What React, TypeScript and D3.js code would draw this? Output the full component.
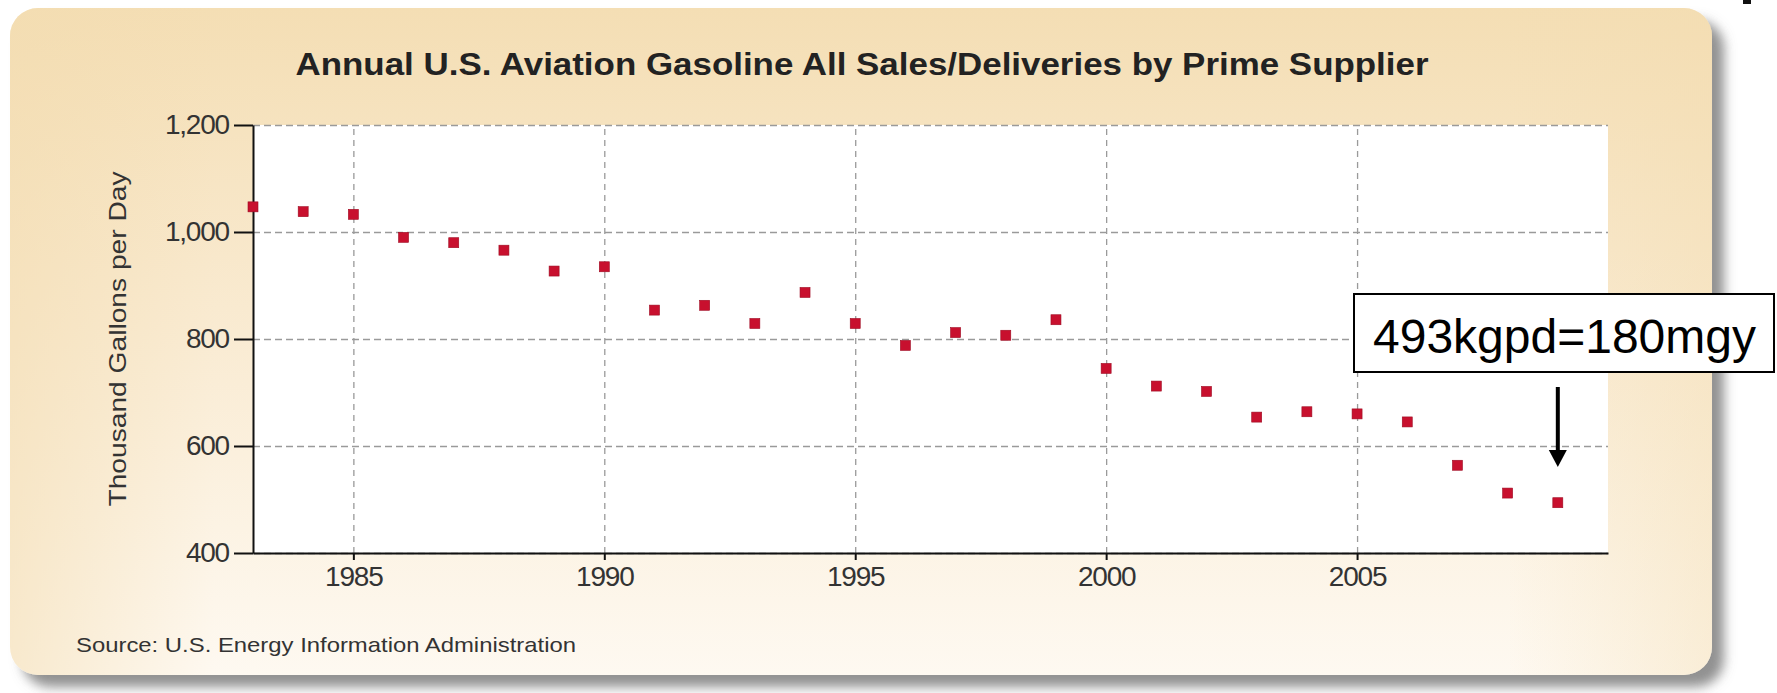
import { useEffect, useMemo, useRef } from 'react'
import * as d3 from 'd3'

const years = [
  1983, 1984, 1985, 1986, 1987, 1988, 1989, 1990, 1991, 1992, 1993, 1994, 1995, 1996,
  1997, 1998, 1999, 2000, 2001, 2002, 2003, 2004, 2005, 2006, 2007, 2008, 2009,
]
const sales = [
  1047, 1038, 1033, 990, 980, 966, 927, 935, 854, 863, 829, 887, 829, 788,
  812, 807, 836, 745, 712, 702, 654, 664, 660, 645, 564, 512, 494,
]
const yTicks = [400, 600, 800, 1000, 1200]
const xTicks = [1985, 1990, 1995, 2000, 2005]

const title = 'Annual U.S. Aviation Gasoline All Sales/Deliveries by Prime Supplier'
const yLabel = 'Thousand Gallons per Day'
const source = 'Source: U.S. Energy Information Administration'
const note = '493kgpd=180mgy'

const W = 1777
const H = 693
const plotBox = { left: 253, right: 1608, top: 125, bottom: 553 }
const font = '"Liberation Sans", Arial, sans-serif'

export default function App() {
  const xAxisRef = useRef<SVGGElement | null>(null)
  const yAxisRef = useRef<SVGGElement | null>(null)
  const xGridRef = useRef<SVGGElement | null>(null)
  const yGridRef = useRef<SVGGElement | null>(null)

  const scales = useMemo(() => {
    const x = d3.scaleLinear().domain([1983, 2010]).range([plotBox.left, plotBox.right])
    const y = d3.scaleLinear().domain([400, 1200]).range([plotBox.bottom, plotBox.top])
    return { x, y }
  }, [])

  useEffect(() => {
    const { x, y } = scales
    const innerW = plotBox.right - plotBox.left
    const innerH = plotBox.bottom - plotBox.top

    const styleAxis = (g: d3.Selection<SVGGElement, unknown, null, undefined>) => {
      g.select('.domain').attr('stroke', '#111').attr('stroke-width', 2)
      g.selectAll('.tick line').attr('stroke', '#111').attr('stroke-width', 2)
      g.selectAll('.tick text')
        .attr('fill', '#333')
        .attr('font-family', font)
        .attr('font-size', 28)
        .attr('letter-spacing', -1.2)
    }

    if (xAxisRef.current) {
      const g = d3.select(xAxisRef.current)
      g.call(d3.axisBottom(x).tickValues(xTicks).tickFormat(d3.format('d')).tickSize(7).tickSizeOuter(0).tickPadding(6))
      styleAxis(g)
      g.attr('font-family', null)
    }
    if (yAxisRef.current) {
      const g = d3.select(yAxisRef.current)
      g.call(d3.axisLeft(y).tickValues(yTicks).tickFormat(d3.format(',')).tickSize(19).tickSizeOuter(0).tickPadding(5))
      styleAxis(g)
    }
    if (xGridRef.current) {
      const g = d3.select(xGridRef.current)
      g.call(d3.axisBottom(x).tickValues(xTicks).tickSize(-innerH).tickFormat(() => ''))
      g.select('.domain').remove()
      g.selectAll('.tick line').attr('stroke', '#9a9a9a').attr('stroke-width', 1.3).attr('stroke-dasharray', '6,5')
    }
    if (yGridRef.current) {
      const g = d3.select(yGridRef.current)
      g.call(d3.axisLeft(y).tickValues(yTicks).tickSize(-innerW).tickFormat(() => ''))
      g.select('.domain').remove()
      g.selectAll('.tick line').attr('stroke', '#9a9a9a').attr('stroke-width', 1.3).attr('stroke-dasharray', '7,4')
    }
  }, [scales])

  const { x, y } = scales
  const arrowX = x(2009)

  return (
    <svg
      width={W}
      height={H}
      viewBox={`0 0 ${W} ${H}`}
      style={{ position: 'absolute', left: 0, top: 0, background: '#fff' }}
    >
      <defs>
        <linearGradient id="panelFill" x1="0" y1="0" x2="0" y2="1">
          <stop offset="0" stopColor="#f4deb4" />
          <stop offset="0.45" stopColor="#f9ead0" />
          <stop offset="1" stopColor="#fef9f1" />
        </linearGradient>
        <linearGradient id="panelSide" x1="0" y1="0" x2="1" y2="0">
          <stop offset="0" stopColor="#f3dcb0" stopOpacity="0.55" />
          <stop offset="0.12" stopColor="#f3dcb0" stopOpacity="0" />
          <stop offset="0.88" stopColor="#f3dcb0" stopOpacity="0" />
          <stop offset="1" stopColor="#f3dcb0" stopOpacity="0.4" />
        </linearGradient>
        <filter id="shadow" x="-5%" y="-5%" width="115%" height="120%">
          <feDropShadow dx="12" dy="12" stdDeviation="6" floodColor="#6d6d6d" floodOpacity="0.75" />
        </filter>
      </defs>

      <rect x={10} y={8} width={1702} height={667} rx={28} fill="url(#panelFill)" filter="url(#shadow)" />
      <rect x={10} y={8} width={1702} height={667} rx={28} fill="url(#panelSide)" />

      <rect x={1743} y={0} width={8} height={4} fill="#111" />

      <text x={862} y={75} textAnchor="middle" fontFamily={font} fontWeight="bold" fontSize={32} fill="#222" textLength={1133} lengthAdjust="spacingAndGlyphs">
        {title}
      </text>

      <rect x={plotBox.left} y={plotBox.top} width={plotBox.right - plotBox.left} height={plotBox.bottom - plotBox.top} fill="#fff" />

      <g ref={xGridRef} transform={`translate(0, ${plotBox.bottom})`} />
      <g ref={yGridRef} transform={`translate(${plotBox.left}, 0)`} />

      <g ref={yAxisRef} transform={`translate(${plotBox.left}, 0)`} />
      <g ref={xAxisRef} transform={`translate(0, ${plotBox.bottom})`} />

      <text
        transform={`translate(126 ${(plotBox.top + plotBox.bottom) / 2}) rotate(-90)`}
        textAnchor="middle"
        fontFamily={font}
        fontSize={24}
        fill="#333"
        textLength={335}
        lengthAdjust="spacingAndGlyphs"
      >
        {yLabel}
      </text>

      <g>
        {years.map((yr, i) => (
          <rect
            key={yr}
            x={x(yr) - 5}
            y={y(sales[i]) - 5}
            width={10}
            height={10}
            fill="#c8102e"
            stroke="#9e0b22"
            strokeWidth={0.6}
          />
        ))}
      </g>

      <text x={76} y={652} fontFamily={font} fontSize={21} fill="#333" textLength={500} lengthAdjust="spacingAndGlyphs">
        {source}
      </text>

      <rect x={1354} y={294} width={420} height={78} fill="#fff" stroke="#000" strokeWidth={2} />
      <text x={1373} y={353} fontFamily={font} fontSize={48} fill="#000">
        {note}
      </text>
      <line x1={arrowX} x2={arrowX} y1={387} y2={452} stroke="#000" strokeWidth={4} />
      <polygon points={`${arrowX - 9},450 ${arrowX + 9},450 ${arrowX},467`} fill="#000" />
    </svg>
  )
}
